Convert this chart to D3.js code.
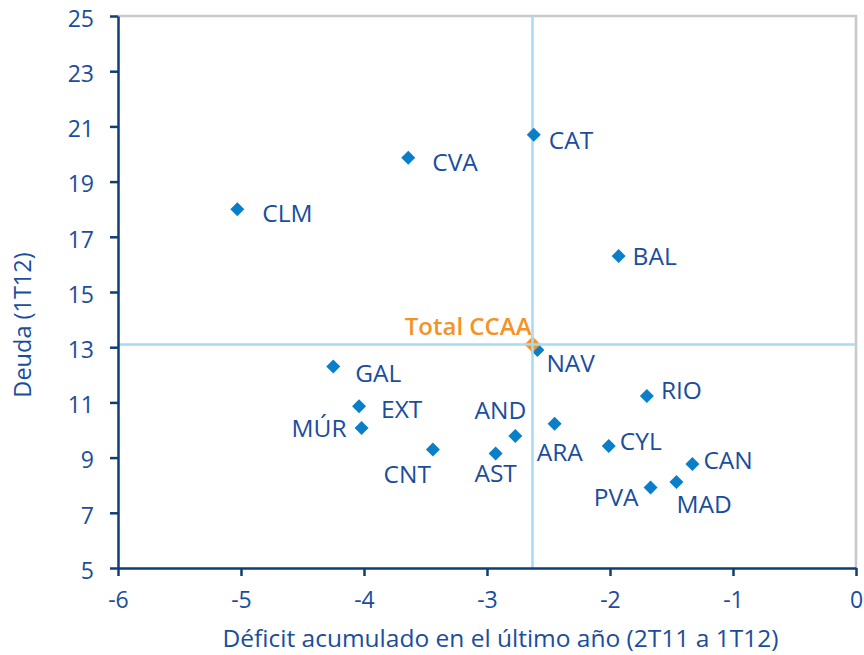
<!DOCTYPE html>
<html>
<head>
<meta charset="utf-8">
<script src="https://cdn.jsdelivr.net/npm/d3@7"></script>
<style>
  body { margin: 0; background: #fff; }
  text { font-family: "Open Sans", sans-serif; }
</style>
</head>
<body>
<div id="chart"></div>
<script>
// regions (comunidades autonomas)
var regions = ["CLM","CVA","CAT","BAL","NAV","GAL","EXT","MÚR","CNT","AST","AND","ARA","RIO","CYL","CAN","MAD","PVA"];
// deficit accumulated over last year (x)
var deficit = [-5.03,-3.64,-2.62,-1.93,-2.59,-4.25,-4.04,-4.02,-3.44,-2.93,-2.77,-2.45,-1.70,-2.01,-1.33,-1.46,-1.67];
// debt 1T12 (y)
var deuda = [18.0,19.86,20.7,16.3,12.9,12.3,10.86,10.07,9.29,9.15,9.78,10.23,11.23,9.42,8.77,8.12,7.92];
// total CCAA
var totalLabel = "Total CCAA";
var totalDeficit = -2.63;
var totalDeuda = 13.1;

var xTicks = [-6,-5,-4,-3,-2,-1,0];
var yTicks = [5,7,9,11,13,15,17,19,21,23,25];

// label placement: [dx, dy, anchor]
var labelPos = {
  "CLM": [25, 13, "start"], "CVA": [24, 13, "start"], "CAT": [15, 14, "start"],
  "BAL": [14, 9, "start"], "NAV": [9, 22, "start"], "GAL": [22, 15, "start"],
  "EXT": [22, 12, "start"], "MÚR": [-15, 9, "end"], "CNT": [-2, 33, "end"],
  "AST": [0, 29, "middle"], "AND": [11, -17, "end"], "ARA": [-18, 37, "start"],
  "RIO": [14, 3, "start"], "CYL": [11, 4, "start"], "CAN": [11, 5, "start"],
  "MAD": [0, 31, "start"], "PVA": [-12, 19, "end"]
};

var W = 864, H = 655;
var margin = {left: 118, right: 8, top: 16, bottom: 87};
var width = W - margin.left - margin.right;
var height = H - margin.top - margin.bottom;

var textBlue = "#1a4d9c";
var axisBlue = "#0d3f75";
var pointBlue = "#0a7fc9";
var crossBlue = "#a9daf3";
var orange = "#f39325";

var svg = d3.select("#chart").append("svg")
    .attr("width", W)
    .attr("height", H)
  .append("g")
    .attr("transform", "translate(" + margin.left + "," + margin.top + ")");

var x = d3.scaleLinear().domain([-6, 0]).range([0, width]);
var y = d3.scaleLinear().domain([5, 25]).range([height, 0]);

// light grey frame on top and right
svg.append("path")
    .attr("d", "M0,0H" + width + "V" + height)
    .attr("fill", "none")
    .attr("stroke", "#c8c8c8")
    .attr("stroke-width", 2.5);

// cross lines through total
svg.append("line")
    .attr("x1", x(totalDeficit)).attr("x2", x(totalDeficit))
    .attr("y1", 0).attr("y2", height)
    .attr("stroke", crossBlue).attr("stroke-width", 2.5);
svg.append("line")
    .attr("x1", 0).attr("x2", width)
    .attr("y1", y(totalDeuda)).attr("y2", y(totalDeuda))
    .attr("stroke", crossBlue).attr("stroke-width", 2.5);

// axes (hyphen minus like the original, not unicode minus)
var fmt = function(d){ return String(d); };
var xAxis = svg.append("g")
    .attr("transform", "translate(0," + height + ")")
    .call(d3.axisBottom(x).tickValues(xTicks).tickFormat(fmt).tickSize(8).tickPadding(16).tickSizeOuter(0));
var yAxis = svg.append("g")
    .call(d3.axisLeft(y).tickValues(yTicks).tickFormat(fmt).tickSize(8).tickPadding(16).tickSizeOuter(0));

[xAxis, yAxis].forEach(function(g){
  g.select(".domain").attr("stroke", axisBlue).attr("stroke-width", 2.5);
  g.selectAll(".tick line").attr("stroke", axisBlue).attr("stroke-width", 2.5);
  g.selectAll(".tick text")
    .attr("fill", textBlue)
    .style("font-size", "23px")
    .style("font-family", "Open Sans");
});
yAxis.selectAll(".tick text").attr("dy", "0.45em");

// diamond marker
function diamond(s){ return "M0," + (-s) + "L" + s + ",0L0," + s + "L" + (-s) + ",0Z"; }

var data = regions.map(function(r, i){ return {name: r, x: deficit[i], y: deuda[i]}; });

svg.selectAll(".pt")
    .data(data)
    .enter()
    .append("path")
    .attr("class", "pt")
    .attr("d", diamond(7))
    .attr("transform", function(d){ return "translate(" + x(d.x) + "," + y(d.y) + ")"; })
    .attr("fill", pointBlue);

svg.selectAll(".lbl")
    .data(data)
    .enter()
    .append("text")
    .attr("class", "lbl")
    .attr("x", function(d){ return x(d.x) + labelPos[d.name][0]; })
    .attr("y", function(d){ return y(d.y) + labelPos[d.name][1]; })
    .attr("text-anchor", function(d){ return labelPos[d.name][2]; })
    .attr("fill", textBlue)
    .style("font-size", "24.5px")
    .text(function(d){ return d.name; });

// total marker (orange diamond under cross)
svg.append("path")
    .attr("d", diamond(8))
    .attr("transform", "translate(" + x(totalDeficit) + "," + y(totalDeuda) + ")")
    .attr("fill", orange);
svg.append("line")
    .attr("x1", x(totalDeficit)).attr("x2", x(totalDeficit))
    .attr("y1", y(totalDeuda) - 9).attr("y2", y(totalDeuda) + 9)
    .attr("stroke", crossBlue).attr("stroke-width", 2.5);
svg.append("line")
    .attr("x1", x(totalDeficit) - 9).attr("x2", x(totalDeficit) + 9)
    .attr("y1", y(totalDeuda)).attr("y2", y(totalDeuda))
    .attr("stroke", crossBlue).attr("stroke-width", 2.5);
svg.append("text")
    .attr("x", x(totalDeficit) - 1)
    .attr("y", y(totalDeuda) - 9)
    .attr("text-anchor", "end")
    .attr("fill", orange)
    .style("font-size", "24px")
    .style("font-weight", "600")
    .text(totalLabel);

// axis titles
svg.append("text")
    .attr("x", (221 + 780) / 2 - margin.left)
    .attr("y", height + 79)
    .attr("text-anchor", "middle")
    .attr("fill", textBlue)
    .style("font-size", "24.5px")
    .text("Déficit acumulado en el último año (2T11 a 1T12)");
svg.append("text")
    .attr("transform", "translate(" + (31 - margin.left) + "," + (325 - margin.top) + ") rotate(-90)")
    .attr("text-anchor", "middle")
    .attr("fill", textBlue)
    .style("font-size", "23.5px")
    .text("Deuda (1T12)");
</script>
</body>
</html>
